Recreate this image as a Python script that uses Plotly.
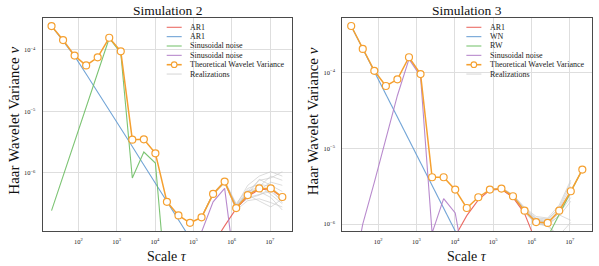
import plotly.graph_objects as go

# ---------------- data ----------------
scales = [20, 40, 80, 160, 320, 640, 1280, 2560, 5120, 10240, 20480, 40960,
          81920, 163840, 327680, 655360, 1310720, 2621440, 5242880, 10485760, 20971520]

x_ticks = [1e2, 1e3, 1e4, 1e5, 1e6, 1e7]
x_tick_labels = ["10<sup>2</sup>", "10<sup>3</sup>", "10<sup>4</sup>",
                 "10<sup>5</sup>", "10<sup>6</sup>", "10<sup>7</sup>"]
y_ticks = [1e-4, 1e-5, 1e-6]
y_tick_labels = ["10<sup>\u22124</sup>", "10<sup>\u22125</sup>", "10<sup>\u22126</sup>"]

titles = ["Simulation 2", "Simulation 3"]

# Simulation 2
s2_names = ["AR1", "AR1", "Sinusoidal noise", "Sinusoidal noise",
            "Theoretical Wavelet Variance", "Realizations"]
s2_theo = [2.45e-4, 1.45e-4, 8.1e-5, 5.6e-5, 7.6e-5, 1.58e-4, 9.5e-5, 3.48e-6, 3.53e-6,
           2.09e-6, 3.4e-7, 2.04e-7, 1.55e-7, 1.9e-7, 4.57e-7, 7.24e-7, 2.69e-7,
           4.37e-7, 5.62e-7, 5.62e-7, 4.07e-7]
s2_ar1_a = [None, None, None, None, None, None, None, None, None, None, None, None,
            None, 3.5e-8, 7.1e-8, 1.38e-7, 2.63e-7, 4.17e-7, 5.37e-7, 5.5e-7, 3.98e-7]
s2_ar1_b = [2.45e-4, 1.41e-4, 7.94e-5, 4.07e-5, 2.09e-5, 1.05e-5, 5.25e-6, 2.69e-6,
            1.35e-6, 6.76e-7, 3.39e-7, 1.7e-7, 8.7e-8, 4.4e-8, None, None, None, None,
            None, None, None]
s2_sin_a = [2.45e-7, 8.9e-7, 3.24e-6, 1.17e-5, 4.27e-5, 1.55e-4, 9.0e-5, 8.3e-7, 2.19e-6,
            1.45e-6, 1.0e-8, None, None, None, None, None, None, None, None, None, None]
s2_sin_b = [None, None, None, None, None, None, None, None, None, None, None, None,
            None, 1.1e-7, 3.39e-7, 5.62e-7, 2.0e-8, None, None, None, None]
s2_real_scales = [163840, 327680, 655360, 1310720, 2621440, 5242880, 10485760, 20971520]
s2_realizations = [
    [1.9e-7, 4.57e-7, 7.1e-7, 3.0e-7, 6.3e-7, 8.9e-7, 1.05e-6, 8.9e-7],
    [1.9e-7, 4.57e-7, 7.4e-7, 2.8e-7, 5.0e-7, 7.6e-7, 8.3e-7, 1.05e-6],
    [1.9e-7, 4.47e-7, 6.9e-7, 2.63e-7, 4.0e-7, 4.47e-7, 5.0e-7, 3.55e-7],
    [1.9e-7, 4.68e-7, 7.6e-7, 3.16e-7, 5.6e-7, 6.6e-7, 6.0e-7, 4.0e-7],
    [1.9e-7, 4.57e-7, 7.2e-7, 2.5e-7, 3.55e-7, 3.8e-7, 3.3e-7, 2.8e-7],
    [1.9e-7, 4.37e-7, 7.1e-7, 2.8e-7, 4.8e-7, 5.25e-7, 7.1e-7, 6.3e-7],
    [1.9e-7, 4.57e-7, 7.2e-7, 2.75e-7, 4.2e-7, 6.3e-7, 4.47e-7, 3.16e-7],
    [1.9e-7, 4.68e-7, 7.1e-7, 2.95e-7, 5.25e-7, 5.0e-7, 4.0e-7, 2.5e-7],
    [1.9e-7, 4.57e-7, 7.4e-7, 2.7e-7, 4.47e-7, 7.9e-7, 6.3e-7, 5.0e-7],
    [1.9e-7, 4.47e-7, 7.2e-7, 2.9e-7, 3.8e-7, 4.37e-7, 5.6e-7, 3.3e-7],
    [1.9e-7, 4.57e-7, 6.9e-7, 2.63e-7, 5.0e-7, 6.0e-7, 8.9e-7, 7.6e-7],
    [1.9e-7, 4.68e-7, 7.2e-7, 3.0e-7, 4.37e-7, 3.55e-7, 2.8e-7, 3.8e-7],
]

# Simulation 3
s3_names = ["AR1", "WN", "RW", "Sinusoidal noise",
            "Theoretical Wavelet Variance", "Realizations"]
s3_theo = [4.14e-4, 2.06e-4, 1.06e-4, 6.67e-5, 8.18e-5, 1.6e-4, 9.6e-5, 4.15e-6, 4.15e-6,
           2.85e-6, 1.63e-6, 2.26e-6, 2.85e-6, 2.94e-6, 2.33e-6, 1.5e-6, 1.06e-6,
           1.035e-6, 1.5e-6, 2.71e-6, 5.24e-6]
s3_ar1 = [None, None, None, None, None, None, None, None, None, 6.9e-7, 1.29e-6, 2.09e-6,
          2.82e-6, 2.88e-6, 2.24e-6, 1.38e-6, 5.75e-7, None, None, None, None]
s3_wn = [4.14e-4, 2.07e-4, 1.035e-4, 5.18e-5, 2.59e-5, 1.29e-5, 6.47e-6, 3.24e-6, 1.62e-6,
         8.1e-7, 4.05e-7, None, None, None, None, None, None, None, None, None, None]
s3_rw = [None, None, None, None, None, None, None, None, None, None, None, None, None,
         None, None, None, None, 6.76e-7, 1.32e-6, 2.63e-6, 5.24e-6]
s3_sin = [1.58e-7, 1.0e-6, 3.55e-6, 1.35e-5, 5.0e-5, 1.51e-4, 8.97e-5, 7.6e-7, 2.17e-6,
          1.4e-6, 2.0e-7, None, None, None, None, None, None, None, None, None, None]
s3_real_scales = [81920, 163840, 327680, 655360, 1310720, 2621440, 5242880, 10485760]
s3_realizations = [
    [2.88e-6, 2.95e-6, 2.40e-6, 1.58e-6, 1.17e-6, 1.12e-6, 1.66e-6, 3.55e-6],
    [2.82e-6, 2.88e-6, 2.29e-6, 1.45e-6, 1.02e-6, 1.0e-6, 1.41e-6, 2.51e-6],
    [2.88e-6, 3.02e-6, 2.45e-6, 1.66e-6, 1.26e-6, 1.2e-6, 1.78e-6, 3.8e-6],
    [2.82e-6, 2.88e-6, 2.24e-6, 1.41e-6, 1.0e-6, 9.5e-7, 1.32e-6, 1.12e-6],
    [2.88e-6, 2.95e-6, 2.34e-6, 1.51e-6, 1.1e-6, 1.07e-6, 1.51e-6, 2.82e-6],
    [2.82e-6, 2.95e-6, 2.40e-6, 1.55e-6, 1.15e-6, 1.02e-6, 1.26e-6, 2.0e-6],
    [2.88e-6, 2.88e-6, 2.29e-6, 1.48e-6, 1.05e-6, 9.3e-7, 7.1e-7, 1.05e-6],
    [2.82e-6, 3.02e-6, 2.40e-6, 1.62e-6, 1.2e-6, 1.17e-6, 1.58e-6, 3.16e-6],
    [2.88e-6, 2.95e-6, 2.34e-6, 1.51e-6, 1.12e-6, 1.1e-6, 1.38e-6, 2.24e-6],
    [2.82e-6, 2.88e-6, 2.29e-6, 1.45e-6, 1.07e-6, 1.0e-6, 6.3e-7, 5.0e-7],
]

# ---------------- style ----------------
W, H = 599, 266
FONT = "Liberation Serif"
RED = "rgba(232,82,74,0.85)"
BLUE = "rgba(98,154,210,0.9)"
GREEN = "rgba(110,190,100,0.9)"
PURPLE = "rgba(176,125,200,0.9)"
ORANGE = "#f5a030"
GRAY = "rgba(200,200,200,0.7)"
GRID = "#dedede"
FRAME = "#4a4a4a"


def px(x):
    return x / W


def py(y):
    return 1 - y / H


panels = [
    dict(x0=42.67, x1=291.67, yr=[-6.948, -3.485]),
    dict(x0=342.33, x1=591.67, yr=[-6.096, -3.281]),
]
PY0, PY1 = 18.3, 231.3

fig = go.Figure()


def add_panel(idx, comps, theo, real_x, reals):
    xa = "x" if idx == 0 else "x2"
    ya = "y" if idx == 0 else "y2"
    for r in reals:
        fig.add_trace(go.Scatter(x=real_x, y=r, mode="lines", xaxis=xa, yaxis=ya,
                                 line=dict(color=GRAY, width=0.9), showlegend=False,
                                 hoverinfo="skip"))
    for vals, col in comps:
        fig.add_trace(go.Scatter(x=scales, y=vals, mode="lines", xaxis=xa, yaxis=ya,
                                 line=dict(color=col, width=1.1), showlegend=False))
    fig.add_trace(go.Scatter(x=scales, y=theo, mode="lines+markers", xaxis=xa, yaxis=ya,
                             line=dict(color=ORANGE, width=1.5),
                             marker=dict(symbol="circle", size=7, color="white",
                                         line=dict(color=ORANGE, width=1.2)),
                             showlegend=False))


add_panel(0, [(s2_ar1_a, RED), (s2_ar1_b, BLUE), (s2_sin_a, GREEN), (s2_sin_b, PURPLE)],
          s2_theo, s2_real_scales, s2_realizations)
add_panel(1, [(s3_ar1, RED), (s3_wn, BLUE), (s3_rw, GREEN), (s3_sin, PURPLE)],
          s3_theo, s3_real_scales, s3_realizations)

axis_common = dict(type="log", showgrid=True, gridcolor=GRID, gridwidth=1, zeroline=False,
                   showline=True, mirror=True, linecolor=FRAME, linewidth=1.2, ticks="",
                   tickfont=dict(size=6.5, color="#222", family=FONT))

layout = dict(width=W, height=H, margin=dict(l=0, r=0, t=0, b=0),
              paper_bgcolor="white", plot_bgcolor="white",
              font=dict(family=FONT, color="#111"), showlegend=False)
for i, p in enumerate(panels):
    sx = "" if i == 0 else "2"
    layout["xaxis" + sx] = dict(axis_common, domain=[px(p["x0"]), px(p["x1"])],
                                range=[1.07, 7.565], anchor="y" + sx,
                                tickvals=x_ticks, ticktext=x_tick_labels,
                                ticklabelstandoff=4)
    layout["yaxis" + sx] = dict(axis_common, domain=[py(PY1), py(PY0)], range=p["yr"],
                                anchor="x" + sx, tickvals=y_ticks, ticktext=y_tick_labels,
                                ticklabelstandoff=5)
fig.update_layout(**layout)

annotations = []
shapes = []
legend_colors = [
    [RED, BLUE, GREEN, PURPLE, ORANGE, GRAY],
    [RED, BLUE, GREEN, PURPLE, ORANGE, GRAY],
]
legend_names = [s2_names, s3_names]
for i, p in enumerate(panels):
    cx = (p["x0"] + p["x1"]) / 2
    annotations.append(dict(text=titles[i], x=px(cx), y=py(10), xref="paper", yref="paper",
                            showarrow=False, xanchor="center", yanchor="middle",
                            font=dict(size=13.5, color="#111")))
    annotations.append(dict(text="Scale <i>\u03c4</i>", x=px(cx), y=py(256), xref="paper",
                            yref="paper", showarrow=False, xanchor="center",
                            yanchor="middle", font=dict(size=14, color="#111")))
    annotations.append(dict(text="Haar Wavelet Variance <i>\u03bd</i>", x=px(p["x0"] - 29),
                            y=py(121), xref="paper", yref="paper", showarrow=False,
                            textangle=-90, xanchor="center", yanchor="middle",
                            font=dict(size=15, color="#111")))
    # manual compact legend
    off = p["x0"] - 42.67
    for j, (name, col) in enumerate(zip(legend_names[i], legend_colors[i])):
        yy = 27.3 + 9.35 * j
        shapes.append(dict(type="line", xref="paper", yref="paper",
                           x0=px(166.7 + off), x1=px(181.7 + off), y0=py(yy), y1=py(yy),
                           line=dict(color=col, width=1.6 if j == 4 else 1.1)))
        if j == 4:
            r = 2.8
            shapes.append(dict(type="circle", xref="paper", yref="paper",
                               x0=px(174.2 + off - r), x1=px(174.2 + off + r),
                               y0=py(yy + r), y1=py(yy - r), fillcolor="white",
                               line=dict(color=ORANGE, width=1.1)))
        annotations.append(dict(text=name, x=px(188 + off), y=py(yy), xref="paper",
                                yref="paper", showarrow=False, xanchor="left",
                                yanchor="middle", font=dict(size=8, color="#222")))

fig.update_layout(annotations=annotations, shapes=shapes)
fig.write_html("out.html", config={"displayModeBar": False},
               post_script="document.body.style.margin='0';document.body.style.padding='0';")
